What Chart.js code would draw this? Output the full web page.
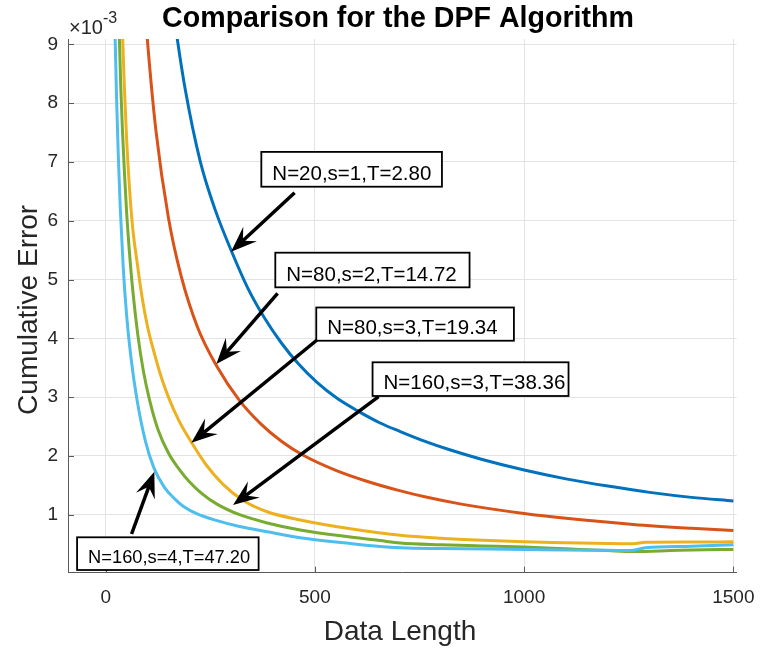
<!DOCTYPE html>
<html>
<head>
<title>Comparison for the DPF Algorithm</title>
<script src="https://cdn.jsdelivr.net/npm/chart.js@4.4.1/dist/chart.umd.min.js"></script>
<style>
    body { margin: 0; background: #fff; }
</style>
</head>
<body>
<canvas id="plot1" width="760" height="650"></canvas>
<script>
// values, y is in units of 1e-3
const blueX = [160, 170, 190, 226, 262, 302, 340, 380, 420, 460, 505, 553, 600, 656, 704, 760, 824, 900, 1000, 1100, 1200, 1300, 1400, 1500]
const blueY = [9.69, 9.15, 8.24, 7.01, 6.18, 5.46, 4.85, 4.34, 3.92, 3.57, 3.25, 2.98, 2.775, 2.56, 2.415, 2.257, 2.1, 1.94, 1.76, 1.61, 1.487, 1.38, 1.295, 1.235]

const redX = [95, 100, 120, 150, 180, 220, 266, 320, 370, 420, 470, 550, 624, 700, 768, 850, 1000, 1100, 1261, 1400, 1500]
const redY = [9.53, 9.05, 7.54, 6.05, 5.07, 4.18, 3.52, 2.94, 2.55, 2.25, 2.02, 1.755, 1.57, 1.414, 1.296, 1.18, 1.02, 0.938, 0.833, 0.768, 0.73]

const yellowX = [37, 40, 44, 50, 57, 65, 75, 87, 100, 115, 132, 150, 175, 206, 240, 280, 325, 386, 465, 585, 704, 800, 900, 1000, 1100, 1200, 1260, 1290, 1400, 1500]
const yellowY = [9.9, 9.25, 8.4, 7.4, 6.55, 5.85, 5.3, 4.7, 4.2, 3.78, 3.36, 3.0, 2.6, 2.22, 1.85, 1.52, 1.26, 1.05, 0.91, 0.76, 0.65, 0.6, 0.565, 0.54, 0.525, 0.51, 0.505, 0.53, 0.535, 0.54]

const greenX = [30, 33, 36, 40, 45, 50, 57, 65, 77, 90, 105, 125, 150, 175, 200, 230, 266, 320, 386, 465, 585, 656, 704, 800, 900, 1000, 1100, 1200, 1261, 1350, 1400, 1500]
const greenY = [9.9, 9.05, 8.3, 7.55, 6.8, 6.15, 5.45, 4.8, 4.05, 3.45, 2.95, 2.45, 2.05, 1.78, 1.56, 1.36, 1.18, 1.0, 0.86, 0.74, 0.62, 0.56, 0.52, 0.49, 0.47, 0.45, 0.42, 0.39, 0.375, 0.39, 0.4, 0.41]

const cyanX = [20, 23, 26, 30, 35, 42, 50, 60, 75, 95, 115, 140, 165, 186, 220, 266, 320, 386, 465, 585, 656, 704, 800, 1000, 1100, 1200, 1253, 1290, 1400, 1500]
const cyanY = [10.0, 9.0, 8.1, 7.15, 6.2, 5.2, 4.4, 3.7, 2.95, 2.25, 1.8, 1.47, 1.27, 1.14, 1.01, 0.9, 0.8, 0.71, 0.61, 0.51, 0.46, 0.44, 0.425, 0.41, 0.4, 0.395, 0.39, 0.44, 0.465, 0.49]

const xTicks = [0, 500, 1000, 1500]
const yTicks = [1, 2, 3, 4, 5, 6, 7, 8, 9]

// text arrows: box corners, arrow tail and head in data units
const notes = [
    { text: 'N=20,s=1,T=2.80', size: 20.5, box: [372, 7.17, 803.6, 6.578], tail: [451.5, 6.476], head: [299.6, 5.473] },
    { text: 'N=80,s=2,T=14.72', size: 20.5, box: [405.4, 5.456, 869.6, 4.867], tail: [410.9, 4.765], head: [264.5, 3.563] },
    { text: 'N=80,s=3,T=19.34', size: 20.5, box: [503.3, 4.524, 975.6, 3.959], tail: [505.0, 3.971], head: [204.7, 2.224] },
    { text: 'N=160,s=3,T=38.36', size: 20.5, box: [637.8, 3.592, 1106.1, 3.019], tail: [652.2, 3.007], head: [304.4, 1.165] },
    { text: 'N=160,s=4,T=47.20', size: 18.3, box: [-68.3, 0.616, 365.5, 0.06], tail: [61.9, 0.672], head: [116.3, 1.731] },
]

const font = '"Liberation Sans", Arial, Helvetica, sans-serif'
const pts = (xs, ys) => xs.map((x, i) => ({ x, y: ys[i] }))

function arrow(ctx, x0, y0, x1, y1) {
    const len = Math.hypot(x1 - x0, y1 - y0)
    const ux = (x1 - x0) / len, uy = (y1 - y0) / len
    const nx = -uy, ny = ux
    const L = 26, W = 10
    const bx = x1 - ux * L, by = y1 - uy * L
    const kx = x1 - ux * L * 0.62, ky = y1 - uy * L * 0.62
    ctx.beginPath()
    ctx.moveTo(x0, y0)
    ctx.lineTo(kx, ky)
    ctx.lineWidth = 3.5
    ctx.stroke()
    ctx.beginPath()
    ctx.moveTo(x1, y1)
    ctx.lineTo(bx + nx * W, by + ny * W)
    ctx.lineTo(kx, ky)
    ctx.lineTo(bx - nx * W, by - ny * W)
    ctx.closePath()
    ctx.fill()
}

const annotate = {
    id: 'annotate',
    afterDraw(chart) {
        const { ctx, chartArea: a, scales: { x, y } } = chart
        ctx.save()

        // matlab style inward ticks
        ctx.strokeStyle = '#5a5a5a'
        ctx.lineWidth = 1
        ctx.beginPath()
        yTicks.forEach(v => {
            const py = Math.round(y.getPixelForValue(v)) + 0.5
            ctx.moveTo(a.left, py)
            ctx.lineTo(a.left + 6, py)
        })
        xTicks.forEach(v => {
            const px = Math.round(x.getPixelForValue(v)) + 0.5
            ctx.moveTo(px, a.bottom)
            ctx.lineTo(px, a.bottom - 6)
        })
        ctx.stroke()

        // title and axis labels
        ctx.fillStyle = '#000'
        ctx.textAlign = 'center'
        ctx.textBaseline = 'alphabetic'
        ctx.font = 'bold 28.6px ' + font
        ctx.fillText('Comparison for the DPF Algorithm', 398, 26.5)

        ctx.fillStyle = '#262626'
        ctx.font = '28px ' + font
        ctx.fillText('Data Length', 400, 640)
        ctx.save()
        ctx.translate(37, (a.top + a.bottom) / 2 + 4)
        ctx.rotate(-Math.PI / 2)
        ctx.fillText('Cumulative Error', 0, 0)
        ctx.restore()

        // exponent
        ctx.textAlign = 'left'
        ctx.font = '20px ' + font
        ctx.fillText('\u00d710', a.left + 1, 33.5)
        const w = ctx.measureText('\u00d710').width
        ctx.font = '16px ' + font
        ctx.fillText('-3', a.left + 1 + w, 22.5)

        // text arrows
        ctx.fillStyle = '#000'
        ctx.strokeStyle = '#000'
        notes.forEach(n => {
            arrow(ctx, x.getPixelForValue(n.tail[0]), y.getPixelForValue(n.tail[1]),
                x.getPixelForValue(n.head[0]), y.getPixelForValue(n.head[1]))
            const bx0 = x.getPixelForValue(n.box[0]), by0 = y.getPixelForValue(n.box[1])
            const bx1 = x.getPixelForValue(n.box[2]), by1 = y.getPixelForValue(n.box[3])
            ctx.fillStyle = '#fff'
            ctx.fillRect(bx0, by0, bx1 - bx0, by1 - by0)
            ctx.lineWidth = 1.8
            ctx.strokeRect(bx0, by0, bx1 - bx0, by1 - by0)
            ctx.fillStyle = '#000'
            ctx.font = n.size + 'px ' + font
            ctx.fillText(n.text, bx0 + 11, by1 - 6.5)
        })
        ctx.restore()
    },
}

const series = [
    { label: 'N=20,s=1', data: pts(blueX, blueY), borderColor: '#0072BD', order: 4 },
    { label: 'N=80,s=2', data: pts(redX, redY), borderColor: '#D95319', order: 3 },
    { label: 'N=80,s=3', data: pts(yellowX, yellowY), borderColor: '#EDB120', order: 2 },
    { label: 'N=160,s=3', data: pts(greenX, greenY), borderColor: '#77AC30', order: 1 },
    { label: 'N=160,s=4', data: pts(cyanX, cyanY), borderColor: '#4DBEEE', order: 0 },
]

const tickFont = { family: font, size: 19 }

new Chart(document.getElementById('plot1'), {
    type: 'scatter',
    data: {
        datasets: series.map(s => ({
            ...s,
            showLine: true,
            borderWidth: 3,
            pointRadius: 0,
            cubicInterpolationMode: 'monotone',
        })),
    },
    options: {
        responsive: false,
        animation: false,
        devicePixelRatio: 1,
        layout: { padding: { left: 0, right: 23.3, top: 39, bottom: 0 } },
        plugins: { legend: { display: false }, tooltip: { enabled: false } },
        scales: {
            x: {
                type: 'linear',
                min: -90,
                max: 1508,
                afterBuildTicks: s => { s.ticks = xTicks.map(v => ({ value: v })) },
                afterFit: s => { s.height = 77.3; s.paddingLeft = 0; s.paddingRight = 0 },
                grid: { color: '#e3e3e3', drawTicks: false },
                border: { color: '#5a5a5a', width: 1 },
                ticks: { font: tickFont, color: '#262626', padding: 14, maxRotation: 0, callback: v => String(v) },
            },
            y: {
                min: 0.014,
                max: 9.09,
                afterBuildTicks: s => { s.ticks = yTicks.map(v => ({ value: v })) },
                afterFit: s => { s.width = 68 },
                grid: { color: '#e3e3e3', drawTicks: false },
                border: { color: '#5a5a5a', width: 1 },
                ticks: { font: tickFont, color: '#262626', padding: 10, callback: v => String(v) },
            },
        },
    },
    plugins: [annotate],
})
</script>
</body>
</html>
